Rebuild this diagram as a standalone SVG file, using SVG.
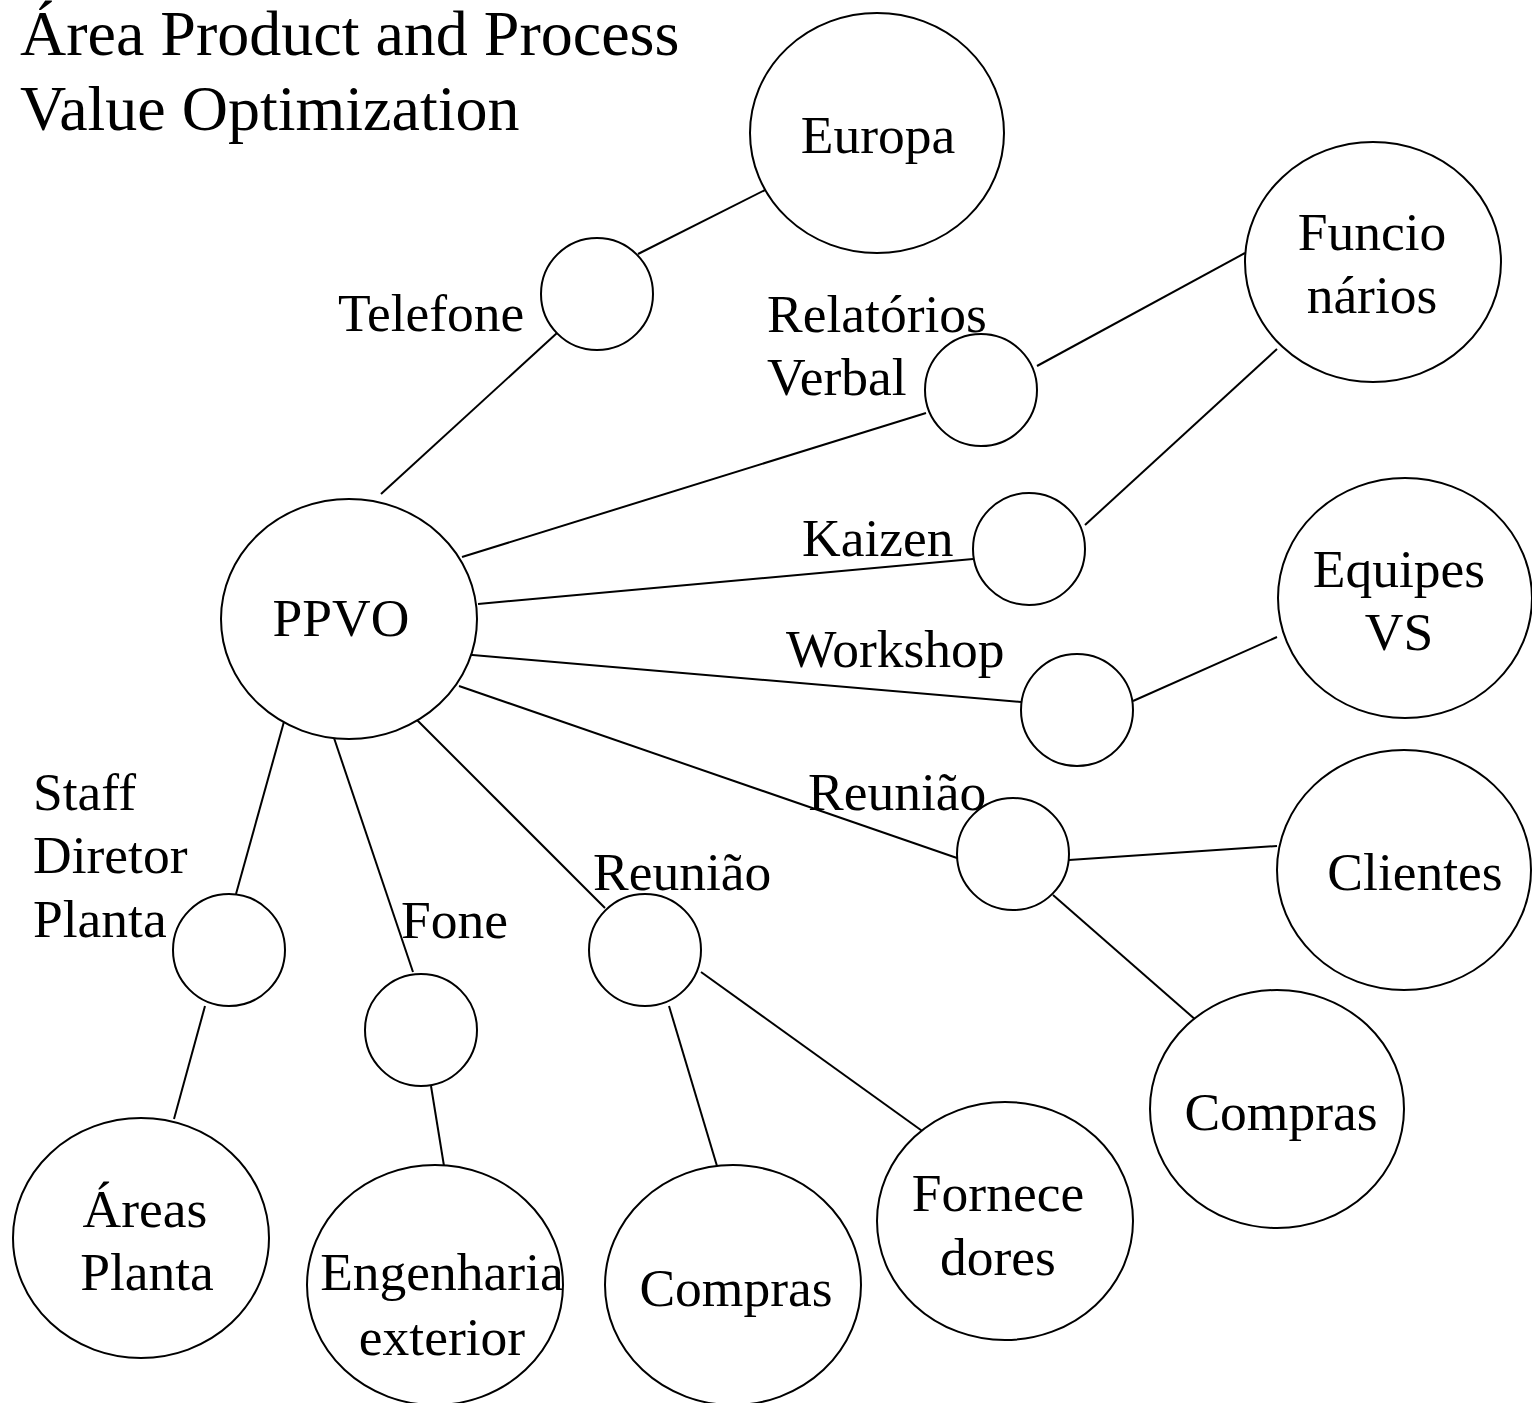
<svg xmlns="http://www.w3.org/2000/svg" width="1532" height="1403" viewBox="0 0 1532 1403">
  <style>
    text { font-family: "Liberation Serif", "Times New Roman", serif; fill: #000; }
    .title { font-size: 64px; }
    .lbl { font-size: 53.5px; }
    .nt { font-size: 53.5px; text-anchor: middle; }
    .big, .hub { fill: #fff; stroke: #000; stroke-width: 2; }
    .conn line { stroke: #000; stroke-width: 2; }
  </style>
  <rect width="1532" height="1403" fill="#fff"/>

  <g id="title">
    <text class="title" x="20" y="55">Área Product and Process</text>
    <text class="title" x="20" y="130">Value Optimization</text>
  </g>

  <!-- connectors -->
  <g id="connectors" class="conn">
    <line x1="638" y1="254" x2="765" y2="190"/>
    <line x1="557" y1="333" x2="381" y2="494"/>
    <line x1="1037" y1="366" x2="1245" y2="253"/>
    <line x1="926" y1="413" x2="462" y2="557"/>
    <line x1="1277" y1="349" x2="1085" y2="525"/>
    <line x1="973" y1="559" x2="478" y2="604"/>
    <line x1="1021" y1="702" x2="461" y2="654"/>
    <line x1="1133" y1="701" x2="1277" y2="637"/>
    <line x1="957" y1="858" x2="459" y2="686"/>
    <line x1="1069" y1="860" x2="1277" y2="846"/>
    <line x1="1053" y1="895" x2="1197" y2="1021"/>
    <line x1="415" y1="718" x2="605" y2="908"/>
    <line x1="669" y1="1006" x2="717" y2="1166"/>
    <line x1="701" y1="972" x2="925" y2="1133"/>
    <line x1="333" y1="735" x2="413" y2="972"/>
    <line x1="431" y1="1086" x2="444" y2="1166"/>
    <line x1="285" y1="718" x2="236" y2="894"/>
    <line x1="205" y1="1006" x2="174" y2="1119"/>
  </g>

  <!-- hub circles with their link labels -->
  <g id="telefone">
    <circle class="hub" cx="597" cy="294" r="56"/>
    <text class="lbl" x="338" y="331">Telefone</text>
  </g>
  <g id="relatorios">
    <circle class="hub" cx="981" cy="390" r="56"/>
    <text class="lbl" x="767" y="332">Relatórios</text>
    <text class="lbl" x="767" y="395">Verbal</text>
  </g>
  <g id="kaizen">
    <circle class="hub" cx="1029" cy="549" r="56"/>
    <text class="lbl" x="802" y="556">Kaizen</text>
  </g>
  <g id="workshop">
    <circle class="hub" cx="1077" cy="710" r="56"/>
    <text class="lbl" x="786" y="667">Workshop</text>
  </g>
  <g id="reuniao-1">
    <circle class="hub" cx="1013" cy="854" r="56"/>
    <text class="lbl" x="808" y="810">Reunião</text>
  </g>
  <g id="staff">
    <circle class="hub" cx="229" cy="950" r="56"/>
    <text class="lbl" x="33" y="810">Staff</text>
    <text class="lbl" x="33" y="873">Diretor</text>
    <text class="lbl" x="33" y="937">Planta</text>
  </g>
  <g id="fone">
    <circle class="hub" cx="421" cy="1030" r="56"/>
    <text class="lbl" x="401" y="938">Fone</text>
  </g>
  <g id="reuniao-2">
    <circle class="hub" cx="645" cy="950" r="56"/>
    <text class="lbl" x="593" y="890">Reunião</text>
  </g>

  <!-- main nodes -->
  <g id="europa">
    <ellipse class="big" cx="877" cy="133" rx="127" ry="120"/>
    <text class="nt" x="878" y="153">Europa</text>
  </g>
  <g id="funcionarios">
    <ellipse class="big" cx="1373" cy="262" rx="128" ry="120"/>
    <text class="nt" x="1372" y="250">Funcio</text>
    <text class="nt" x="1372" y="313">nários</text>
  </g>
  <g id="equipes">
    <ellipse class="big" cx="1405" cy="598" rx="127" ry="120"/>
    <text class="nt" x="1399" y="587">Equipes</text>
    <text class="nt" x="1399" y="650">VS</text>
  </g>
  <g id="ppvo">
    <ellipse class="big" cx="349" cy="619" rx="128" ry="120"/>
    <text class="nt" x="341" y="636">PPVO</text>
  </g>
  <g id="clientes">
    <ellipse class="big" cx="1404" cy="870" rx="127" ry="120"/>
    <text class="nt" x="1415" y="890">Clientes</text>
  </g>
  <g id="compras-1">
    <ellipse class="big" cx="1277" cy="1109" rx="127" ry="119"/>
    <text class="nt" x="1281" y="1130">Compras</text>
  </g>
  <g id="areas">
    <ellipse class="big" cx="141" cy="1238" rx="128" ry="120"/>
    <text class="nt" x="145" y="1227">Áreas</text>
    <text class="nt" x="147" y="1290">Planta</text>
  </g>
  <g id="engenharia">
    <ellipse class="big" cx="435" cy="1285" rx="128" ry="120"/>
    <text class="nt" x="442" y="1290">Engenharia</text>
    <text class="nt" x="442" y="1355">exterior</text>
  </g>
  <g id="compras-2">
    <ellipse class="big" cx="733" cy="1285" rx="128" ry="120"/>
    <text class="nt" x="736" y="1306">Compras</text>
  </g>
  <g id="fornecedores">
    <ellipse class="big" cx="1005" cy="1221" rx="128" ry="119"/>
    <text class="nt" x="998" y="1211">Fornece</text>
    <text class="nt" x="998" y="1275">dores</text>
  </g>
</svg>
